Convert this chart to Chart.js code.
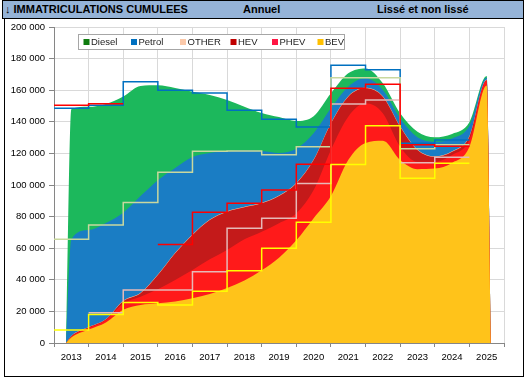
<!DOCTYPE html>
<html><head><meta charset="utf-8">
<script src="https://cdn.jsdelivr.net/npm/chart.js@4.4.0/dist/chart.umd.min.js"></script>
<style>
html,body{margin:0;padding:0;background:#fff;}
body{width:529px;height:384px;position:relative;overflow:hidden;font-family:"Liberation Sans",Arial,sans-serif;}
#frame{position:absolute;left:4px;top:18px;width:518px;height:357px;border:1px solid #000;}
#bar{position:absolute;left:2px;top:0;width:520px;height:17px;background:#95b3d7;border:1px solid #000;font-weight:bold;font-size:11px;color:#000;}
#bar span{position:absolute;top:2px;white-space:nowrap;}
canvas{position:absolute;left:0;top:0;}
</style></head>
<body>
<div id="frame"></div>
<div id="bar"><span style="left:2px">↓ IMMATRICULATIONS CUMULEES</span><span style="left:240px">Annuel</span><span style="left:374px">Lissé et non lissé</span></div>
<canvas id="c" width="529" height="384"></canvas>
<script>
// ---- tick labels (one per year band) ----
const years = ['2013','2014','2015','2016','2017','2018','2019','2020','2021','2022','2023','2024','2025'];
const seriesNames = ['Diesel','Petrol','OTHER','HEV','PHEV','BEV'];

// ---- smoothed (rolling) series, sampled along the time axis (years) ----
const sampleT = [2013.35,2013.5,2014,2014.5,2015,2015.5,2016,2016.5,2017,2017.5,2018,2018.5,2019,2019.5,2020,2020.5,2021,2021.5,2022,2022.5,2023,2023.5,2024,2024.5,2025,2025.5,2025.62];
const bev    = [0,3500,8500,13000,21000,24000,25100,26300,28300,31000,34800,39500,46000,54000,65000,79000,93000,115800,126600,128000,115800,110000,110400,114000,124000,163000,0];
const phev   = [0,500,1000,1500,4000,5300,8900,13600,17900,22000,24100,26100,24400,21800,17100,17800,29200,27400,25100,17400,8400,4700,4300,5000,4500,3000,0];
const hev    = [0,300,400,500,1500,2200,9000,16900,22200,24800,24200,20300,18000,17200,18900,19000,16800,12700,9500,10500,12700,7500,3200,2100,2100,500,0];
const other  = [0,200,200,200,300,300,300,300,300,300,300,300,300,300,300,300,300,300,300,300,300,300,300,300,300,200,0];
const petrol = [0,61000,61400,60800,55700,61200,59700,53700,49000,42200,37800,35600,32800,27000,21700,16600,9200,6000,6000,3900,5000,7700,9200,8100,6400,1300,0];
const diesel = [0,82500,78000,75300,73500,69700,60100,50600,41300,36700,32600,27800,24100,22700,17500,10800,9500,8500,6300,4300,3200,3500,2800,2800,2400,1000,0];

// ---- annual (non smoothed) cumulative levels, one per year 2013..2024 ----
const stepYears     = [2013,2014,2015,2016,2017,2018,2019,2020,2021,2022,2023,2024];
const stepTotal     = [148600,150400,165400,160000,158200,147300,141600,136700,175800,173000,126400,128500];
const stepPetrolTop = [65600,74700,89000,108000,121300,121500,119200,124200,167900,167900,123000,125500];
const stepHEVTop    = [150500,151500,null,62400,82700,88400,96800,113100,161200,163700,125500,124500];
const stepPHEVTop   = [null,19200,33500,33500,45100,72600,78900,101000,151300,153800,114100,117500];
const stepBEVTop    = [8200,18100,25700,24000,32700,45800,60000,76400,113000,137500,104200,113700];

function pts(arr){ return sampleT.map((t,i)=>({x:t,y:arr[i]})); }
function stepPts(vals){
  const p=[];
  vals.forEach((v,i)=>{
    const y0=stepYears[i];
    if(v===null){ p.push({x:y0+0.5,y:null}); return; }
    p.push({x:y0,y:v},{x:y0+1,y:v});
  });
  return p;
}
// stacked areas, each filled down to the origin; upper layers are drawn first so no seams appear
function area(label,arr,color){
  return {label,data:pts(arr),stack:'areas',fill:'origin',backgroundColor:color,borderColor:'rgba(0,0,0,0)',borderWidth:0,
    pointRadius:0,cubicInterpolationMode:'monotone',order:10};
}
function step(label,vals,color,order){
  return {label,data:stepPts(vals),borderColor:color,borderWidth:1.5,pointRadius:0,fill:false,order};
}
const fmt = v => String(v).replace(/\B(?=(\d{3})+(?!\d))/g,' ');
const FONT = {family:'"Liberation Sans", Arial, sans-serif', size:9.5};

const legendPlugin = {
  id:'boxLegend',
  afterDraw(chart){
    const ctx=chart.ctx;
    const cols=['#107c10','#0070c0','#fbc9aa','#c00000','#ff1744','#ffc000'];
    const xs=[83.5,131,180,230.5,272,317.5];
    ctx.save();
    ctx.fillStyle='#fff'; ctx.fillRect(78.5,34.5,266,15);
    ctx.strokeStyle='#a6a6a6'; ctx.lineWidth=1; ctx.strokeRect(78.5,34.5,266,15);
    ctx.font='9.5px "Liberation Sans", Arial, sans-serif'; ctx.textBaseline='middle';
    seriesNames.forEach((n,i)=>{
      ctx.fillStyle=cols[i]; ctx.fillRect(xs[i],39,6,6);
      ctx.fillStyle='#222'; ctx.fillText(n,xs[i]+7.5,42.5);
    });
    ctx.restore();
  }
};

new Chart(document.getElementById('c'),{
  type:'line',
  data:{datasets:[
    area('BEV',bev,'#ffc31a'),
    area('PHEV',phev,'#ff1a1a'),
    area('HEV',hev,'#c41a1a'),
    area('OTHER',other,'#fbc6a0'),
    area('Petrol',petrol,'#1a7dc4'),
    area('Diesel',diesel,'#1cb85c'),
    step('Total annuel',stepTotal,'#0070c0',5),
    step('Petrol annuel',stepPetrolTop,'#c9d89e',4),
    step('PHEV annuel',stepPHEVTop,'#e6b9b8',3),
    step('HEV annuel',stepHEVTop,'#ff0000',2),
    step('BEV annuel',stepBEVTop,'#ffff00',1)
  ]},
  options:{
    responsive:false,animation:false,devicePixelRatio:1,
    layout:{padding:{left:0,right:25,top:27,bottom:0}},
    plugins:{legend:{display:false},tooltip:{enabled:false}},
    scales:{
      x:{type:'linear',min:2013,max:2026,afterFit(s){s.height=41;},
        grid:{color:'#d9d9d9',tickLength:4,tickColor:'#868686'},
        border:{color:'#868686'},
        ticks:{stepSize:1,autoSkip:false,maxRotation:0,labelOffset:17.3,padding:5,color:'#000',font:FONT,
          callback:(v)=>{const i=Math.round(v-2013); return years[i]!==undefined?years[i]:'';}}},
      y:{min:0,max:200000,afterFit(s){s.width=54;},
        grid:{color:'#d9d9d9',tickLength:5,tickColor:'#868686'},
        border:{color:'#868686'},
        ticks:{stepSize:20000,padding:4,color:'#000',font:FONT,callback:(v)=>fmt(v)}}
    }
  },
  plugins:[legendPlugin]
});
</script>
</body></html>
